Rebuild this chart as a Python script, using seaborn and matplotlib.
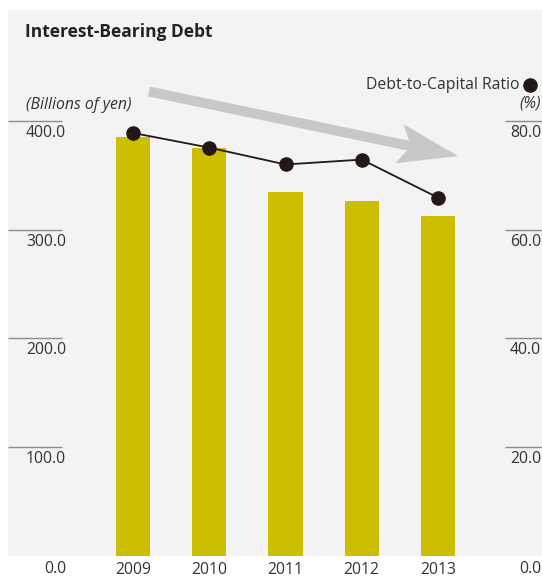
import numpy as np
import pandas as pd
import matplotlib
matplotlib.use("Agg")
import matplotlib.pyplot as plt
from matplotlib.patches import FancyArrow
import seaborn as sns

# Data
years = ["2009", "2010", "2011", "2012", "2013"]
debt = [385.0, 375.0, 335.0, 326.0, 313.0]          # billions of yen
ratio = [77.8, 75.1, 72.0, 72.9, 65.9]             # %
left_ticks = [100.0, 200.0, 300.0, 400.0]
right_ticks = [20.0, 40.0, 60.0, 80.0]

sns.set_theme(style="white")
plt.rcParams["font.family"] = ["Open Sans", "DejaVu Sans"]

W, H = 542, 578
fig = plt.figure(figsize=(W / 100, H / 100), dpi=100)
fig.patch.set_facecolor("white")

def fx(px):
    return px / W

def fy(py):
    return 1 - py / H

BAR = "#ccbe00"
INK = "#231815"
TXT = "#333333"
PANEL = "#f3f3f3"
TICK = "#8c8c8c"
FS = 11.3

# Main plot panel
y0_px, ytop_px = 555.7, 10.0
x0_px, x1_px = 8.0, 542.0
ax = fig.add_axes([fx(x0_px), fy(y0_px), (x1_px - x0_px) / W, (y0_px - ytop_px) / H])
ax.set_facecolor(PANEL)

df = pd.DataFrame({"year": years, "debt": debt, "ratio": ratio})
sns.barplot(data=df, x="year", y="debt", color=BAR, width=0.446,
            saturation=1, linewidth=0, edgecolor="none", ax=ax, zorder=2)

ax2 = ax.twinx()
sns.pointplot(data=df, x="year", y="ratio", color=INK, markers="o",
              markersize=9.5, linewidth=1.3, ax=ax2, zorder=4)

px_per_unit = 76.25
xlim = (-(133 - x0_px) / px_per_unit, 4 + (x1_px - 438) / px_per_unit)
ymax = 400 * (y0_px - ytop_px) / (y0_px - 121.0)
ax.set_xlim(xlim)
ax2.set_xlim(xlim)
ax.set_ylim(0, ymax)
ax2.set_ylim(0, ymax / 5)

for a in (ax, ax2):
    for s in a.spines.values():
        s.set_visible(False)
    a.set_xticks([])
    a.set_yticks([])
    a.set_xlabel("")
    a.set_ylabel("")

# Tick rules and labels
ax_w = x1_px - x0_px
trans_l = ax.get_yaxis_transform()
trans_r = ax2.get_yaxis_transform()
ax.hlines(left_ticks, 0, 54 / ax_w, transform=trans_l, color=TICK, lw=1.0, zorder=1)
ax2.hlines(right_ticks, (505 - x0_px) / ax_w, 1.0, transform=trans_r, color=TICK, lw=1.0, zorder=1)

for v in left_ticks:
    py = y0_px - (y0_px - 121.0) * v / 400 + 12
    fig.text(fx(66), fy(py), f"{v:.1f}", ha="right", va="center", fontsize=FS, color=TXT)
for v in right_ticks:
    py = y0_px - (y0_px - 121.0) * v / 80 + 12
    fig.text(fx(541), fy(py), f"{v:.1f}", ha="right", va="center", fontsize=FS, color=TXT)

fig.text(fx(66), fy(569), "0.0", ha="right", va="center", fontsize=FS, color=TXT)
fig.text(fx(541), fy(569), "0.0", ha="right", va="center", fontsize=FS, color=TXT)

for i, yr in enumerate(years):
    fig.text(fx(133 + i * px_per_unit), fy(569.5), yr, ha="center", va="center",
             fontsize=FS, color=TXT)

# Titles and unit labels
fig.text(fx(25), fy(32), "Interest-Bearing Debt", ha="left", va="center",
         fontsize=12.5, fontweight="bold", color="#222222")
fig.text(fx(26), fy(105), "(Billions of yen)", ha="left", va="center",
         fontsize=FS, fontstyle="italic", color=TXT)
fig.text(fx(541), fy(103), "(%)", ha="right", va="center",
         fontsize=FS, fontstyle="italic", color=TXT)
fig.text(fx(520), fy(85), "Debt-to-Capital Ratio", ha="right", va="center",
         fontsize=FS, color=TXT)

# Overlay in pixel coordinates for the trend arrow and legend dot
ov = fig.add_axes([0, 0, 1, 1], facecolor="none")
ov.set_xlim(0, W)
ov.set_ylim(H, 0)
ov.axis("off")
sx, sy, tx, ty = 149.0, 91.5, 458.0, 156.0
ov.add_patch(FancyArrow(sx, sy, tx - sx, ty - sy, width=10, head_width=40,
                        head_length=60, overhang=0.15, length_includes_head=True,
                        color="#c8c8c8", lw=0, zorder=1))
ov.plot([530], [85], "o", color=INK, markersize=9.5)

fig.savefig("out.png", dpi=100)
